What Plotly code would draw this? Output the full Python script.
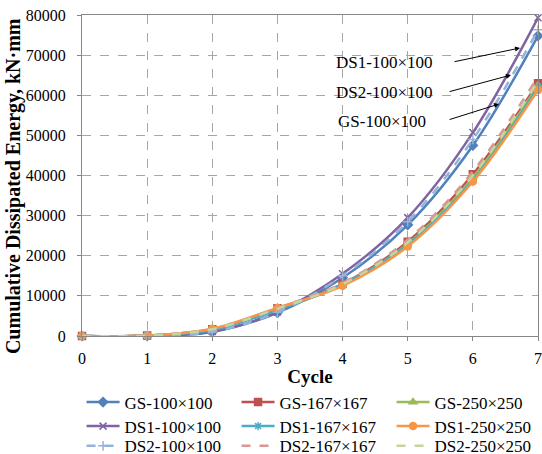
import plotly.graph_objects as go

cycles = [0, 1, 2, 3, 4, 5, 6, 7]
names = ["GS-100×100", "GS-167×167", "GS-250×250",
         "DS1-100×100", "DS1-167×167", "DS1-250×250",
         "DS2-100×100", "DS2-167×167", "DS2-250×250"]
gs_100 = [0, 50, 1000, 5800, 14500, 27700, 47500, 74800]
gs_167 = [0, 100, 1700, 6900, 13000, 23500, 40300, 63000]
gs_250 = [0, 100, 1700, 6700, 12800, 23000, 39500, 62500]
ds1_100 = [0, 50, 1100, 6000, 15500, 29500, 50700, 79300]
ds1_167 = [0, 80, 1500, 6500, 12800, 22800, 38800, 62000]
ds1_250 = [0, 100, 1800, 7000, 12500, 22300, 38500, 61300]
ds2_100 = [0, 50, 1050, 5900, 15000, 28500, 49000, 76300]
ds2_167 = [0, 100, 1800, 7000, 13200, 24000, 41000, 64600]
ds2_250 = [0, 100, 1700, 6800, 12900, 23300, 40000, 63500]
series = [gs_100, gs_167, gs_250, ds1_100, ds1_167, ds1_250, ds2_100, ds2_167, ds2_250]

colors = ["#4F81BD", "#C0504D", "#9BBB59", "#8064A2", "#4BACC6", "#F79646",
          "#95B3D7", "#D99694", "#C3D69B"]
symbols = ["diamond", "square", "triangle-up", "x-thin", "asterisk", "circle",
           "cross-thin", None, None]
dashes = ["solid"] * 6 + ["dash"] * 3
legend_ids = ["legend"] * 3 + ["legend2"] * 3 + ["legend3"] * 3

FONT = "Liberation Serif"

fig = go.Figure()
for nm, ys, c, s, d, lg in zip(names, series, colors, symbols, dashes, legend_ids):
    if s is None:
        mode = "lines"
        marker = None
    else:
        mode = "lines+markers"
        marker = dict(symbol=s, size=7, color=c, line=dict(color=c, width=1.5))
    fig.add_trace(go.Scatter(
        x=cycles, y=ys, name=nm, mode=mode, marker=marker, legend=lg,
        line=dict(color=c, width=2.5, dash=d, shape="spline", smoothing=1),
        cliponaxis=False,
    ))

# Labels with arrows
labels = ["DS1-100×100", "DS2-100×100", "GS-100×100"]
label_x = [4.636, 4.636, 4.605]
label_y = [68040, 60810, 53580]
arrow_tail_x = [5.695, 5.62, 5.62]
arrow_tail_y = [68290, 60810, 53830]
arrow_head_x = [6.724, 6.586, 6.402]
arrow_head_y = [71780, 65050, 57820]

for t, lx, ly in zip(labels, label_x, label_y):
    fig.add_annotation(x=lx, y=ly, xref="x", yref="y", text=t, showarrow=False,
                       font=dict(family=FONT, size=17, color="black"))
for tx, ty, hx, hy in zip(arrow_tail_x, arrow_tail_y, arrow_head_x, arrow_head_y):
    fig.add_annotation(x=hx, y=hy, ax=tx, ay=ty, xref="x", yref="y",
                       axref="x", ayref="y", text="", showarrow=True,
                       arrowhead=2, arrowsize=1, arrowwidth=1, arrowcolor="black")

# Y-axis title (placed as rotated text, centred as in the reference)
fig.add_annotation(text="<b>Cumulative Dissipated Energy, kN·mm</b>",
                   xref="paper", yref="paper", x=0, y=0.467, xshift=-69,
                   xanchor="center", yanchor="middle", textangle=-90,
                   showarrow=False, font=dict(family=FONT, size=20, color="black"))

axis_common = dict(
    showline=True, linecolor="#868686", linewidth=1, mirror=True,
    showgrid=True, gridcolor="#A6A6A6", griddash="dash", gridwidth=1,
    ticks="outside", ticklen=4, tickcolor="#868686",
    tickfont=dict(family=FONT, size=16, color="black"),
    zeroline=False, tickformat="d",
)

legend_common = dict(orientation="h", x=-0.001, xanchor="left", yanchor="top",
                     entrywidth=107, entrywidthmode="pixels", itemwidth=33,
                     font=dict(family=FONT, size=17, color="black"),
                     bgcolor="rgba(0,0,0,0)")

fig.update_layout(
    width=542, height=454,
    margin=dict(l=82, r=4, t=15, b=118, autoexpand=False),
    paper_bgcolor="white", plot_bgcolor="white",
    font=dict(family=FONT, size=17, color="black"),
    xaxis=dict(range=[0, 7], dtick=1, tick0=0, ticklabelstandoff=4,
               title=dict(text="<b>Cycle</b>", font=dict(family=FONT, size=19), standoff=3),
               **axis_common),
    yaxis=dict(range=[0, 80000], dtick=10000, tick0=0, ticklabelstandoff=8,
               **axis_common),
    showlegend=True,
    legend=dict(y=-0.151, **legend_common),
    legend2=dict(y=-0.226, **legend_common),
    legend3=dict(y=-0.2875, **legend_common),
)

fig.write_html("out.html", config={"displayModeBar": False},
               post_script="document.body.style.margin='0';")
